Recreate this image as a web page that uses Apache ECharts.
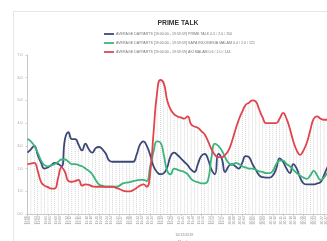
<!DOCTYPE html>
<html>
<head>
<meta charset="utf-8">
<script src="https://cdn.jsdelivr.net/npm/echarts@6/dist/echarts.min.js"></script>
<style>
  html, body { margin: 0; padding: 0; background: #fff; overflow: hidden; width: 327px; height: 241px; }
  #chart { position: absolute; left: 13px; top: 11px; width: 328px; height: 230px; border-top: 1px solid #e6e6e6; border-left: 1px solid #e6e6e6; }
</style>
</head>
<body>
<div id="chart"></div>
<script>
// labels shown on every 3rd point
const tickLabels = [
  '19:00', '19:03', '19:06', '19:09', '19:12', '19:15', '19:18', '19:21',
  '19:24', '19:27', '19:30', '19:33', '19:36', '19:39', '19:42', '19:45',
  '19:48', '19:51', '19:54', '19:57', '20:00', '20:03', '20:06', '20:09',
  '20:12', '20:15', '20:18', '20:21', '20:24', '20:27', '20:30'
];
const yTicks = [0, 1, 2, 3, 4, 5, 6, 7];

const seriesNames = [
  'AVERAGE DAYPARTS [19:00:00 - 19:59:59] PRIME TALK 0.5 / 2.0 / 150',
  'AVERAGE DAYPARTS [19:00:00 - 19:59:59] SAPA INDONESIA MALAM 0.4 / 2.0 / 121',
  'AVERAGE DAYPARTS [19:00:00 - 19:59:59] AKI MALAM 0.6 / 2.0 / 144'
];

const primeTalk = [
  2.7, 2.85, 3.0, 2.6, 2.25, 2.0, 2.05, 2.15, 2.25, 2.2,
  2.1, 3.3, 3.6, 3.3, 3.3, 3.05, 2.8, 3.1, 2.85, 2.7,
  2.9, 2.95, 2.85, 2.65, 2.35, 2.3, 2.3, 2.3, 2.3, 2.3,
  2.3, 2.3, 2.6, 3.05, 3.2, 3.0, 2.6, 2.1, 1.85, 1.75,
  1.8, 2.05, 2.55, 2.7, 2.6, 2.45, 2.3, 2.15, 1.95, 1.85,
  2.2, 2.55, 2.65, 2.4, 1.95, 1.75, 2.65, 2.45, 1.85, 2.1,
  2.2, 2.1, 2.0, 2.25, 2.55, 2.5, 2.2, 1.95, 1.7, 1.62,
  1.6, 1.6, 1.7, 2.0, 2.45, 2.3, 2.0, 1.8, 2.2, 2.0,
  1.6, 1.35, 1.3, 1.3, 1.3, 1.35, 1.4, 1.7, 2.05, 2.3,
  2.4, 2.2, 2.1
];
const sapaIndonesia = [
  3.3, 3.2, 3.0, 2.7, 2.35, 2.15, 2.1, 2.15, 2.2, 2.3,
  2.4, 2.4, 2.3, 2.2, 2.2, 2.15, 2.1, 2.0, 1.9, 1.75,
  1.5, 1.3, 1.25, 1.2, 1.2, 1.2, 1.2, 1.25, 1.35, 1.38,
  1.4, 1.45, 1.48, 1.5, 1.5, 1.45, 2.1, 2.75, 3.2, 3.15,
  2.6, 1.9, 1.75, 2.0, 1.95, 1.9, 1.85, 1.75, 1.55, 1.45,
  1.4, 1.35, 1.35, 1.5, 2.5, 3.1, 3.0, 2.8, 2.5, 2.25,
  2.15, 2.25, 2.2, 2.1, 2.05, 2.0, 2.0, 1.95, 1.88, 1.85,
  1.8, 1.8, 1.9, 2.2, 2.35, 2.35, 2.2, 2.1, 1.95, 1.8,
  1.7, 1.6, 1.55, 1.7, 1.9, 1.7, 1.5, 1.6, 1.8, 1.9,
  2.0, 1.9, 1.85
];
const akiMalam = [
  2.2, 2.22, 2.25, 1.9, 1.4, 1.25, 1.18, 1.12, 1.12, 1.6,
  2.05, 1.85, 1.45, 1.42, 1.45, 1.5, 1.25, 1.3, 1.28, 1.22,
  1.2, 1.2, 1.2, 1.2, 1.2, 1.2, 1.15, 1.1, 1.03, 1.0,
  1.0, 1.05, 1.15, 1.25, 1.3, 1.2, 1.8, 3.6, 5.3, 5.9,
  5.75, 5.0, 4.6, 4.4, 4.3, 4.25, 4.2, 4.3, 3.95, 3.85,
  3.8, 3.65, 3.5, 3.2, 2.85, 2.6, 2.5, 2.5, 2.6, 2.8,
  3.2, 3.7, 4.15, 4.5, 4.8, 4.9, 5.0, 4.95, 4.6, 4.25,
  4.0, 4.0, 4.0, 4.0, 4.2, 4.45, 4.2, 3.75, 3.2, 2.8,
  2.6, 2.8, 3.15, 3.7, 4.2, 4.3, 4.2, 4.15, 4.15, 4.1,
  4.0, 4.2, 4.3
];

const colors = ['#3c4878', '#3cb57c', '#e0454e'];
const font = 'Liberation Sans';

const categories = primeTalk.map((v, i) => i);
const dropTop = categories.map(i => [i, Math.max(primeTalk[i], sapaIndonesia[i], akiMalam[i])]);

const chart = echarts.init(document.getElementById('chart'));

const lineSeries = [primeTalk, sapaIndonesia, akiMalam].map((d, k) => ({
  name: seriesNames[k],
  type: 'line',
  data: d,
  smooth: 0.5,
  symbol: 'none',
  z: 3,
  lineStyle: { color: colors[k], width: 1.8 },
  itemStyle: { color: colors[k] }
}));

chart.setOption({
  animation: false,
  backgroundColor: '#fff',
  title: {
    text: 'PRIME TALK',
    left: 'center',
    top: 3,
    textStyle: { fontFamily: font, fontSize: 6.8, fontWeight: 'bold', color: '#333' }
  },
  legend: {
    orient: 'vertical',
    left: 85,
    top: 15,
    icon: 'rect',
    itemWidth: 10,
    itemHeight: 1.8,
    itemGap: 5,
    data: seriesNames,
    textStyle: { fontFamily: font, fontSize: 3.6, color: '#777', padding: [0, 0, 0, -3] }
  },
  grid: { left: 13.5, right: 1, top: 43, bottom: 28, outerBoundsMode: 'none' },
  xAxis: {
    type: 'category',
    data: categories,
    boundaryGap: false,
    name: '10/12/2019\nMonday',
    nameLocation: 'middle',
    nameGap: 17,
    nameMoveOverlap: false,
    nameTextStyle: { fontFamily: font, fontSize: 3.6, color: '#888', lineHeight: 7 },
    axisLine: { lineStyle: { color: '#bbb', width: 0.8 } },
    axisTick: { interval: 2, length: 2, lineStyle: { color: '#bbb', width: 0.6 } },
    axisLabel: {
      interval: 0,
      rotate: 90,
      margin: 2,
      fontFamily: font,
      fontSize: 3.4,
      color: '#999',
      lineHeight: 3.6,
      formatter: (v, i) => i % 3 === 0 ? tickLabels[i / 3] + '\n' + tickLabels[i / 3] : ''
    },
    splitLine: { show: false }
  },
  yAxis: {
    type: 'value',
    min: yTicks[0],
    max: yTicks[yTicks.length - 1],
    interval: 1,
    axisLine: { show: true, lineStyle: { color: '#bbb', width: 0.8 } },
    axisTick: { show: true, length: 2, lineStyle: { color: '#bbb', width: 0.6 } },
    axisLabel: {
      margin: 5,
      fontFamily: font,
      fontSize: 3.6,
      color: '#999',
      formatter: v => v.toFixed(1)
    },
    splitLine: { show: false }
  },
  series: [
    {
      name: 'drop',
      type: 'custom',
      z: 1,
      silent: true,
      data: dropTop,
      renderItem: (params, api) => {
        const top = api.coord([api.value(0), api.value(1)]);
        const bottom = api.coord([api.value(0), 0]);
        return {
          type: 'line',
          shape: { x1: top[0], y1: top[1], x2: bottom[0], y2: bottom[1] },
          style: { stroke: '#b8b8b8', lineWidth: 0.6, lineDash: [1, 1] }
        };
      }
    }
  ].concat(lineSeries)
});
</script>
</body>
</html>
